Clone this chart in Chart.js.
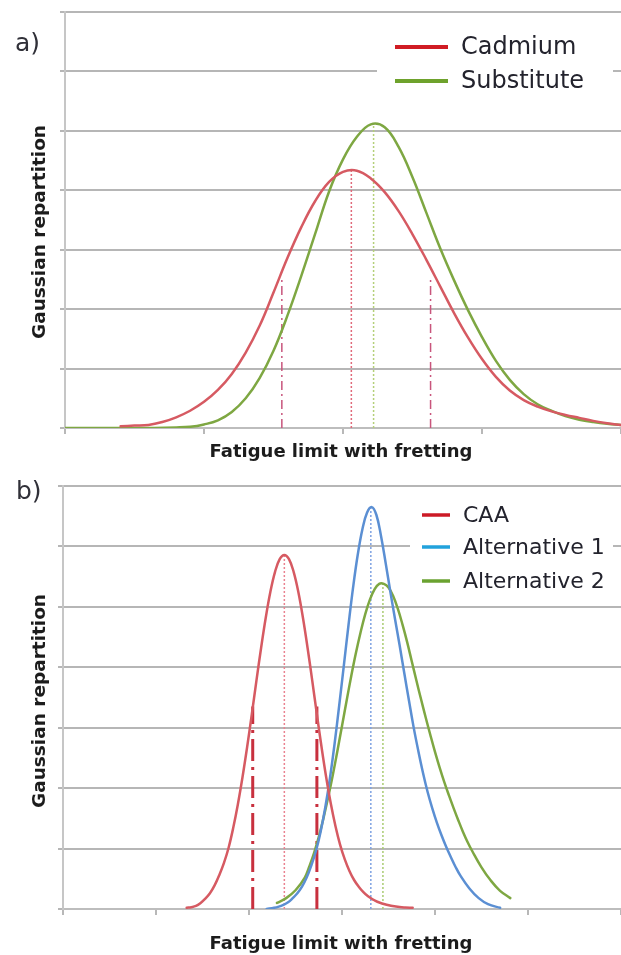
<!DOCTYPE html>
<html><head><meta charset="utf-8">
<script src="https://cdn.jsdelivr.net/npm/chart.js@4.4.0/dist/chart.umd.min.js"></script>
<style>
html,body{margin:0;padding:0;background:#fff;}
body{width:621px;height:955px;position:relative;overflow:hidden;}
#wa{position:absolute;left:0;top:0;width:621px;height:470px;}
#wb{position:absolute;left:0;top:470px;width:621px;height:485px;}
canvas{display:block;}
</style></head><body>
<div id="wa"><canvas id="ca" width="621" height="470"></canvas></div>
<div id="wb"><canvas id="cb" width="621" height="485"></canvas></div>
<script>
// ---------- Panel a) data ----------
const aXMax = 4;
const aYMax = 7;
const cadmiumX = [0.40,0.50,0.60,0.70,0.80,0.90,1.00,1.10,1.20,1.30,1.40,1.50,1.60,1.70,1.80,1.90,2.00,2.10,2.20,2.30,2.40,2.50,2.60,2.70,2.80,2.90,3.00,3.10,3.20,3.30,3.40,3.50,3.60,3.70,3.80,3.90,4.00];
const cadmiumY = [0.03,0.04,0.05,0.10,0.18,0.29,0.44,0.64,0.91,1.27,1.72,2.28,2.86,3.38,3.82,4.14,4.31,4.33,4.20,3.97,3.65,3.26,2.83,2.38,1.93,1.52,1.16,0.86,0.63,0.47,0.36,0.28,0.22,0.17,0.12,0.08,0.05];
const substituteX = [0.00,0.50,0.80,0.90,1.00,1.10,1.20,1.30,1.40,1.50,1.60,1.70,1.80,1.90,2.00,2.10,2.20,2.30,2.40,2.50,2.60,2.70,2.80,2.90,3.00,3.10,3.20,3.30,3.40,3.50,3.60,3.70,3.80,3.90,4.00];
const substituteY = [0.00,0.00,0.01,0.02,0.06,0.13,0.27,0.50,0.84,1.30,1.89,2.56,3.27,3.98,4.52,4.90,5.11,5.06,4.73,4.22,3.62,3.02,2.48,1.98,1.53,1.13,0.81,0.57,0.40,0.29,0.20,0.14,0.10,0.07,0.05];
const cadmiumMean = [2.06, 4.34];      // [x, height]
const substituteMean = [2.22, 5.12];
const cadmiumBounds = [1.56, 2.63];
const cadmiumBoundsTop = 2.49;

// ---------- Panel b) data ----------
const bXMax = 6;
const bYMax = 7;
const caaX = [1.33,1.38,1.43,1.48,1.53,1.58,1.63,1.68,1.73,1.78,1.83,1.88,1.93,1.98,2.03,2.08,2.13,2.18,2.23,2.28,2.33,2.38,2.43,2.48,2.53,2.58,2.63,2.68,2.73,2.78,2.83,2.88,2.93,2.98,3.03,3.08,3.13,3.18,3.23,3.28,3.33,3.38,3.48,3.58,3.68,3.76];
const caaY = [0.02,0.03,0.05,0.10,0.17,0.26,0.39,0.56,0.76,1.01,1.34,1.73,2.18,2.68,3.22,3.78,4.32,4.82,5.25,5.58,5.79,5.86,5.79,5.58,5.25,4.82,4.32,3.78,3.22,2.68,2.18,1.74,1.37,1.06,0.82,0.63,0.48,0.37,0.28,0.21,0.16,0.12,0.07,0.04,0.025,0.02];
const alt1X = [2.19,2.27,2.32,2.37,2.42,2.47,2.52,2.57,2.62,2.67,2.72,2.77,2.82,2.87,2.92,2.97,3.02,3.07,3.12,3.17,3.22,3.27,3.32,3.37,3.42,3.47,3.52,3.57,3.62,3.67,3.72,3.77,3.82,3.87,3.92,3.97,4.02,4.07,4.12,4.17,4.22,4.27,4.37,4.47,4.57,4.70];
const alt1Y = [0.00,0.02,0.04,0.07,0.11,0.18,0.26,0.37,0.52,0.72,0.96,1.28,1.68,2.16,2.73,3.37,4.03,4.70,5.33,5.87,6.29,6.56,6.65,6.52,6.17,5.72,5.25,4.80,4.36,3.90,3.45,3.01,2.62,2.26,1.94,1.67,1.43,1.22,1.03,0.86,0.70,0.56,0.34,0.18,0.08,0.02];
const alt2X = [2.30,2.40,2.50,2.60,2.65,2.70,2.75,2.80,2.85,2.90,2.95,3.00,3.05,3.10,3.15,3.20,3.25,3.30,3.35,3.40,3.45,3.50,3.55,3.60,3.65,3.70,3.75,3.80,3.85,3.90,3.95,4.00,4.05,4.10,4.15,4.20,4.25,4.30,4.35,4.40,4.50,4.60,4.70,4.81];
const alt2Y = [0.10,0.18,0.31,0.52,0.71,0.93,1.19,1.50,1.84,2.21,2.61,3.03,3.45,3.86,4.24,4.58,4.88,5.12,5.29,5.38,5.38,5.32,5.18,4.97,4.71,4.42,4.10,3.78,3.47,3.17,2.88,2.60,2.34,2.10,1.88,1.67,1.47,1.28,1.11,0.96,0.69,0.47,0.30,0.18];
const caaMean = [2.38, 5.86];
const alt1Mean = [3.31, 6.65];
const alt2Mean = [3.44, 5.39];
const caaBounds = [2.04, 2.73];
const caaBoundsTop = 3.35;

const legendA = ['Cadmium','Substitute'];
const legendB = ['CAA','Alternative 1','Alternative 2'];

// ---------- helpers ----------
const pts = (xs, ys) => xs.map((x, i) => ({x, y: ys[i]}));
const curve = (xs, ys, color, w) => ({
  data: pts(xs, ys), borderColor: color, borderWidth: w, pointRadius: 0,
  tension: 0.4, cubicInterpolationMode: 'default', fill: false,
  borderJoinStyle: 'round', borderCapStyle: 'round'
});
const vline = (x, top, color, dash, w) => ({
  data: [{x, y: 0}, {x, y: top}], borderColor: color, borderWidth: w,
  borderDash: dash, pointRadius: 0, tension: 0, fill: false
});

const FONT = '"DejaVu Sans", "Liberation Sans", Arial, sans-serif';

const decor = {
  id: 'decor',
  afterDraw(chart, args, o) {
    const ctx = chart.ctx;
    ctx.save();
    // legend background box (hides grid lines behind it)
    ctx.fillStyle = '#ffffff';
    ctx.fillRect(o.box[0], o.box[1], o.box[2], o.box[3]);
    o.items.forEach((it, i) => {
      const y = o.rows[i];
      ctx.strokeStyle = it.color; ctx.lineWidth = o.sampleW; ctx.lineCap = 'butt';
      ctx.beginPath(); ctx.moveTo(o.sample[0], y); ctx.lineTo(o.sample[1], y); ctx.stroke();
      ctx.fillStyle = '#23232d'; ctx.font = o.legendFont;
      ctx.textAlign = 'left'; ctx.textBaseline = 'middle';
      ctx.fillText(it.text, o.textX, y + 1);
    });
    // panel label
    ctx.fillStyle = '#303038'; ctx.font = '25px ' + FONT;
    ctx.textAlign = 'left'; ctx.textBaseline = 'middle';
    ctx.fillText(o.label, o.labelPos[0], o.labelPos[1]);
    // axis titles
    ctx.fillStyle = '#1c1c1c'; ctx.font = 'bold 18px ' + FONT;
    ctx.textAlign = 'center'; ctx.textBaseline = 'middle';
    ctx.fillText('Fatigue limit with fretting', o.xTitle[0], o.xTitle[1]);
    ctx.translate(o.yTitle[0], o.yTitle[1]);
    ctx.rotate(-Math.PI / 2);
    ctx.font = 'bold 18.5px ' + FONT;
    ctx.fillText('Gaussian repartition', 0, 0);
    ctx.restore();
  }
};

function scales(xMax, yMax, leftW, bottomH) {
  return {
    x: {
      type: 'linear', min: 0, max: xMax,
      ticks: {display: false, stepSize: 1},
      grid: {drawOnChartArea: false, drawTicks: true, tickLength: 6, color: '#b8b8b8', lineWidth: 2},
      border: {display: true, color: '#bdbdbd', width: 2},
      afterFit: s => { s.height = bottomH; }
    },
    y: {
      type: 'linear', min: 0, max: yMax,
      ticks: {display: false, stepSize: 1},
      grid: {color: '#b6b6b6', lineWidth: 2, drawTicks: true, tickLength: 5},
      border: {display: true, color: '#c6c6c6', width: 2},
      afterFit: s => { s.width = leftW; }
    }
  };
}

const RED = '#d65a62', GREEN = '#7ea742', BLUE = '#5b8fd3';

new Chart(document.getElementById('ca'), {
  type: 'line',
  data: {
    datasets: [
      curve(cadmiumX, cadmiumY, RED, 2.5),
      curve(substituteX, substituteY, GREEN, 2.5),
      vline(cadmiumMean[0], cadmiumMean[1], '#e06a7a', [2, 2], 1.5),
      vline(substituteMean[0], substituteMean[1], '#b4cf78', [2, 2], 1.5),
      vline(cadmiumBounds[0], cadmiumBoundsTop, '#c8557c', [9, 4, 2, 4], 1.5),
      vline(cadmiumBounds[1], cadmiumBoundsTop, '#c8557c', [9, 4, 2, 4], 1.5)
    ]
  },
  options: {
    responsive: false, animation: false, devicePixelRatio: 1,
    layout: {padding: {top: 12, right: 0, left: 0, bottom: 0}},
    scales: scales(aXMax, aYMax, 65, 42),
    plugins: {
      legend: {display: false}, tooltip: {enabled: false},
      decor: {
        box: [377, 22, 236, 86],
        items: [{text: legendA[0], color: '#d01c24'}, {text: legendA[1], color: '#6ea22c'}],
        rows: [47, 81], sample: [395, 448], sampleW: 4, textX: 461,
        legendFont: '24px ' + FONT,
        label: 'a)', labelPos: [15, 44],
        xTitle: [341, 452], yTitle: [40.5, 232]
      }
    }
  },
  plugins: [decor]
});

new Chart(document.getElementById('cb'), {
  type: 'line',
  data: {
    datasets: [
      curve(caaX, caaY, RED, 2.5),
      curve(alt1X, alt1Y, BLUE, 2.5),
      curve(alt2X, alt2Y, GREEN, 2.5),
      vline(caaMean[0], caaMean[1], '#ea8290', [2, 2], 1.5),
      vline(alt1Mean[0], alt1Mean[1], '#7ea2e2', [2, 2], 1.5),
      vline(alt2Mean[0], alt2Mean[1], '#a9cc72', [2, 2], 1.5),
      vline(caaBounds[0], caaBoundsTop, '#c8303e', [22, 6, 3, 6], 3),
      vline(caaBounds[1], caaBoundsTop, '#c8303e', [22, 6, 3, 6], 3)
    ]
  },
  options: {
    responsive: false, animation: false, devicePixelRatio: 1,
    layout: {padding: {top: 16, right: 0, left: 0, bottom: 0}},
    scales: scales(bXMax, bYMax, 63, 46),
    plugins: {
      legend: {display: false}, tooltip: {enabled: false},
      decor: {
        box: [410, 26, 203, 102],
        items: [{text: legendB[0], color: '#cc1a26'}, {text: legendB[1], color: '#22a2dc'}, {text: legendB[2], color: '#6aa230'}],
        rows: [45, 77, 111], sample: [422, 450], sampleW: 3.5, textX: 463,
        legendFont: '22px ' + FONT,
        label: 'b)', labelPos: [16, 22],
        xTitle: [341, 474], yTitle: [40.5, 231]
      }
    }
  },
  plugins: [decor]
});
</script>
</body></html>
